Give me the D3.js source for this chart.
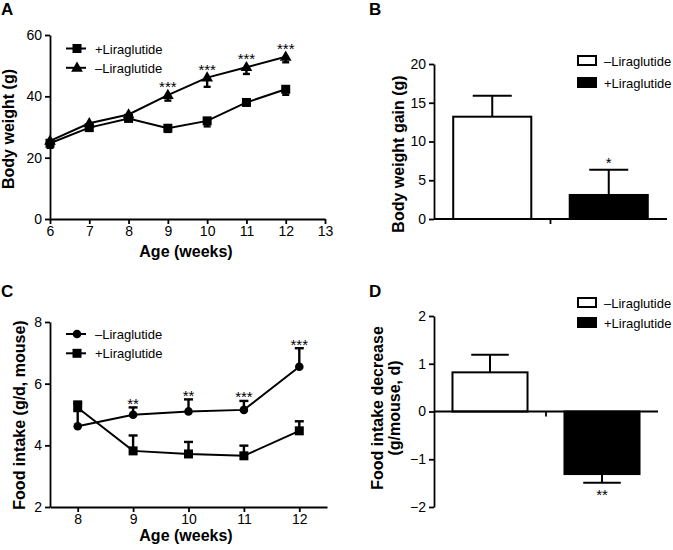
<!DOCTYPE html>
<html>
<head>
<meta charset="utf-8">
<script src="https://cdn.jsdelivr.net/npm/d3@7/dist/d3.min.js"></script>
<style>
  html, body { margin: 0; padding: 0; background: #fff; }
  svg { display: block; font-family: "Liberation Sans", Arial, sans-serif; }
  .axis path, .axis line { stroke: #000; stroke-width: 1.8; }
  .axis text { font-size: 14px; fill: #000; }
  .title { font-size: 16px; font-weight: bold; }
  .letter { font-size: 17px; font-weight: bold; }
  .legend { font-size: 13px; }
  .stars { font-size: 15px; }
</style>
</head>
<body>
<svg id="chart" width="673" height="550"></svg>
<script>
'use strict';

// ---- Data ------------------------------------------------------------------
// A: body weight by age
var weeksA = [6, 7, 8, 9, 10, 11, 12];
var bwMinus = [25.5, 31.2, 34.1, 40.4, 46.1, 49.5, 52.9];
var bwMinusErr = [1.0, 0.5, 0.5, 1.8, 3.0, 2.2, 1.8];
var bwPlus = [24.7, 29.8, 32.8, 29.6, 32.0, 38.0, 42.3];
var bwPlusErr = [1.5, 0.8, 0.8, 1.2, 1.8, 0.8, 1.8];
var bwStars = ['', '', '', '***', '***', '***', '***'];
var xTicksA = [6, 7, 8, 9, 10, 11, 12, 13];
var yTicksA = [0, 20, 40, 60];

// B: body weight gain
var groups = ['\u2013Liraglutide', '+Liraglutide'];
var gainMean = [13.2, 3.1];
var gainErr = [2.7, 3.25];
var gainStars = ['', '*'];
var yTicksB = [0, 5, 10, 15, 20];

// C: food intake by age
var weeksC = [8, 9, 10, 11, 12];
var fiMinus = [4.62, 4.99, 5.10, 5.15, 6.55];
var fiMinusErr = [0.75, 0.24, 0.39, 0.29, 0.6];
var fiPlus = [5.22, 3.82, 3.72, 3.66, 4.47];
var fiPlusErr = [0.2, 0.5, 0.39, 0.33, 0.31];
var fiStars = ['', '**', '**', '***', '***'];
var yTicksC = [2, 4, 6, 8];

// D: food intake decrease
var decMean = [0.82, -1.31];
var decErr = [0.37, 0.18];
var decStars = ['', '**'];
var yTicksD = [-2, -1, 0, 1, 2];

var svg = d3.select('#chart');
var fmt = d3.format('d');

// ---- Helpers ---------------------------------------------------------------
function leftAxis(x, y, ticks) {
  svg.append('g').attr('class', 'axis')
    .attr('transform', 'translate(' + x + ',0)')
    .call(d3.axisLeft(y).tickValues(ticks).tickFormat(fmt)
      .tickSize(5).tickPadding(3).tickSizeOuter(0));
}

function bottomAxis(x, yPos, ticks) {
  svg.append('g').attr('class', 'axis')
    .attr('transform', 'translate(0,' + yPos + ')')
    .call(d3.axisBottom(x).tickValues(ticks).tickFormat(fmt)
      .tickSize(5).tickPadding(2).tickSizeOuter(0));
}

function yTitle(lines, x, cy) {
  var t = svg.append('text').attr('class', 'title')
    .attr('transform', 'translate(' + x + ',' + cy + ') rotate(-90)')
    .attr('text-anchor', 'middle');
  lines.forEach(function(s, i) {
    t.append('tspan').attr('x', 0).attr('dy', i ? 17 : 0).text(s);
  });
}

function xTitle(s, cx, y) {
  svg.append('text').attr('class', 'title')
    .attr('x', cx).attr('y', y).attr('text-anchor', 'middle').text(s);
}

function letter(s, x, y) {
  svg.append('text').attr('class', 'letter').attr('x', x).attr('y', y).text(s);
}

// error bar from value v to v + e*dir, cap of width w
function errBar(g, cx, y, v, e, dir, w, sw) {
  var y0 = y(v), y1 = y(v + dir * e);
  g.append('line').attr('x1', cx).attr('x2', cx).attr('y1', y0).attr('y2', y1)
    .attr('stroke', '#000').attr('stroke-width', sw);
  g.append('line').attr('x1', cx - w / 2).attr('x2', cx + w / 2).attr('y1', y1).attr('y2', y1)
    .attr('stroke', '#000').attr('stroke-width', sw);
}

function marker(g, type, cx, cy) {
  if (type === 'square') {
    g.append('rect').attr('x', cx - 4.5).attr('y', cy - 4.5)
      .attr('width', 9).attr('height', 9).attr('fill', '#000');
  } else if (type === 'triangle') {
    g.append('path').attr('d', d3.symbol(d3.symbolTriangle, 60)())
      .attr('transform', 'translate(' + cx + ',' + (cy + 0.5) + ')').attr('fill', '#000');
  } else {
    g.append('circle').attr('cx', cx).attr('cy', cy).attr('r', 4.3).attr('fill', '#000');
  }
}

function series(xs, vals, errs, x, y, type, dir, capW) {
  var g = svg.append('g');
  var line = d3.line().x(function(d) { return x(d[0]); }).y(function(d) { return y(d[1]); });
  xs.forEach(function(w, i) { errBar(g, x(w), y, vals[i], errs[i], dir, capW, 2.4); });
  g.append('path').datum(xs.map(function(w, i) { return [w, vals[i]]; }))
    .attr('d', line).attr('fill', 'none').attr('stroke', '#000').attr('stroke-width', 2);
  xs.forEach(function(w, i) { marker(g, type, x(w), y(vals[i])); });
}

function lineLegend(items, x0, y0, dy) {
  items.forEach(function(it, i) {
    var cy = y0 + i * dy;
    svg.append('line').attr('x1', x0).attr('x2', x0 + 20).attr('y1', cy).attr('y2', cy)
      .attr('stroke', '#000').attr('stroke-width', 2);
    marker(svg, it.type, x0 + 11, cy);
    svg.append('text').attr('class', 'legend').attr('x', x0 + 29).attr('y', cy + 5).text(it.label);
  });
}

function boxLegend(x0, y0, dy) {
  groups.forEach(function(label, i) {
    var top = y0 + i * dy;
    svg.append('rect').attr('x', x0).attr('y', top).attr('width', 18).attr('height', 9)
      .attr('fill', i ? '#000' : '#fff').attr('stroke', '#000').attr('stroke-width', 2);
    svg.append('text').attr('class', 'legend').attr('x', x0 + 26).attr('y', top + 10).text(label);
  });
}

// starOff: screen offset of the star baseline from the error cap
function barPanel(means, errs, stars, y, yTicks, x0, x1, starOff) {
  var xb = d3.scaleBand().domain(groups).range([x0, x1]).paddingInner(0.33).paddingOuter(0.165);
  var zero = y(0);
  var g = svg.append('g');
  groups.forEach(function(k, i) {
    var v = means[i], dir = v < 0 ? -1 : 1;
    var cx = xb(k) + xb.bandwidth() / 2;
    errBar(g, cx, y, v, errs[i], dir, xb.bandwidth() / 2, 2);
    g.append('rect').attr('x', xb(k)).attr('width', xb.bandwidth())
      .attr('y', Math.min(y(v), zero)).attr('height', Math.abs(y(v) - zero))
      .attr('fill', i ? '#000' : '#fff').attr('stroke', '#000').attr('stroke-width', 2);
    if (stars[i]) {
      g.append('text').attr('class', 'stars').attr('text-anchor', 'middle')
        .attr('x', cx).attr('y', y(v + dir * errs[i]) + starOff).text(stars[i]);
    }
  });
  // baseline with one tick between the two groups
  var mid = (xb(groups[0]) + xb.bandwidth() + xb(groups[1])) / 2;
  svg.append('line').attr('x1', x0).attr('x2', x1).attr('y1', zero).attr('y2', zero)
    .attr('stroke', '#000').attr('stroke-width', 1.8);
  svg.append('line').attr('x1', mid).attr('x2', mid).attr('y1', zero).attr('y2', zero + 5)
    .attr('stroke', '#000').attr('stroke-width', 1.8);
  leftAxis(x0, y, yTicks);
}

// ---- Panel A ---------------------------------------------------------------
var xA = d3.scaleLinear().domain([6, 13]).range([50, 325]);
var yA = d3.scaleLinear().domain([0, 60]).range([219, 35]);
leftAxis(50, yA, yTicksA);
bottomAxis(xA, 219, xTicksA);
series(weeksA, bwPlus, bwPlusErr, xA, yA, 'square', -1, 7);
series(weeksA, bwMinus, bwMinusErr, xA, yA, 'triangle', -1, 7);
weeksA.forEach(function(w, i) {
  if (!bwStars[i]) return;
  svg.append('text').attr('class', 'stars').attr('text-anchor', 'middle')
    .attr('x', xA(w)).attr('y', yA(bwMinus[i]) - 3).text(bwStars[i]);
});
lineLegend([{ type: 'square', label: '+Liraglutide' }, { type: 'triangle', label: '\u2013Liraglutide' }], 66, 48.5, 19.3);
yTitle(['Body weight (g)'], 14, 129);
xTitle('Age (weeks)', 186, 257);
letter('A', 1, 15);

// ---- Panel B ---------------------------------------------------------------
var yB = d3.scaleLinear().domain([0, 20]).range([219, 64]);
barPanel(gainMean, gainErr, gainStars, yB, yTicksB, 434, 667, -1.5);
boxLegend(578, 56, 22);
yTitle(['Body weight gain (g)'], 404, 154);
letter('B', 369, 15);

// ---- Panel C ---------------------------------------------------------------
var xC = d3.scaleLinear().domain([7.5, 12.5]).range([50, 327]);
var yC = d3.scaleLinear().domain([2, 8]).range([507, 322]);
leftAxis(50, yC, yTicksC);
bottomAxis(xC, 507, weeksC);
series(weeksC, fiPlus, fiPlusErr, xC, yC, 'square', 1, 9);
series(weeksC, fiMinus, fiMinusErr, xC, yC, 'circle', 1, 9);
weeksC.forEach(function(w, i) {
  if (!fiStars[i]) return;
  svg.append('text').attr('class', 'stars').attr('text-anchor', 'middle')
    .attr('x', xC(w)).attr('y', yC(fiMinus[i] + fiMinusErr[i]) + 1.5).text(fiStars[i]);
});
lineLegend([{ type: 'circle', label: '\u2013Liraglutide' }, { type: 'square', label: '+Liraglutide' }], 66, 334, 19.3);
yTitle(['Food intake (g/d, mouse)'], 25, 415);
xTitle('Age (weeks)', 186, 541);
letter('C', 1, 297);

// ---- Panel D ---------------------------------------------------------------
var yD = d3.scaleLinear().domain([-2, 2]).range([507, 316]);
barPanel(decMean, decErr, decStars, yD, yTicksD, 434, 658, 17.5);
boxLegend(578, 298, 20);
yTitle(['Food intake decrease', '(g/mouse, d)'], 383, 408);
letter('D', 369, 297);
</script>
</body>
</html>
